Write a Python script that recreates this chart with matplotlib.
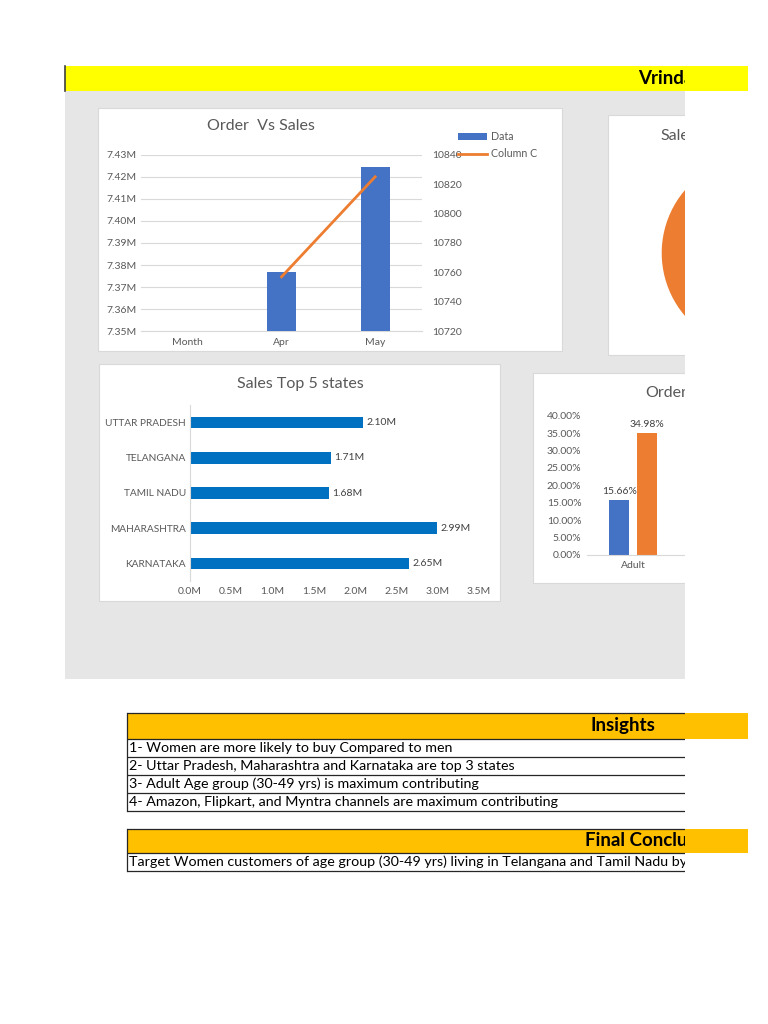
import numpy as np
import matplotlib.pyplot as plt
from matplotlib.patches import Rectangle
from matplotlib.ticker import FuncFormatter

plt.rcParams['font.family'] = ['Lato', 'DejaVu Sans']

# Order vs sales by month
months = ['Month', 'Apr', 'May']
sales = [np.nan, 7376900, 7424300]
orders = [np.nan, 10757, 10825]

# Top 5 states (bottom to top)
states = ['KARNATAKA', 'MAHARASHTRA', 'TAMIL NADU', 'TELANGANA', 'UTTAR PRADESH']
state_sales = [2.65e6, 2.99e6, 1.68e6, 1.71e6, 2.10e6]

# Orders by age and gender (only Adult visible)
age_groups = ['Adult']
age_men = [15.66]
age_women = [34.98]

# Sales by gender (pie, mostly cut off)
gender = ['Men', 'Women']
gender_share = [35.8, 64.2]

banner = 'Vrinda Store'
insights = [
    '1- Women are more likely to buy Compared to men',
    '2- Uttar Pradesh, Maharashtra and Karnataka are top 3 states',
    '3- Adult Age group (30-49 yrs) is maximum contributing',
    '4- Amazon, Flipkart, and Myntra channels are maximum contributing',
]
conclusion = 'Target Women customers of age group (30-49 yrs) living in Telangana and Tamil Nadu by'

W, H = 768, 1024
BLUE, ORANGE, BAR = '#4472C4', '#ED7D31', '#0070C0'
GRAY_TXT, GRID = '#595959', '#d9d9d9'

fig = plt.figure(figsize=(7.68, 10.24), dpi=100)


def px_axes(x0, y0, x1, y1):
    return fig.add_axes([x0 / W, 1 - y1 / H, (x1 - x0) / W, (y1 - y0) / H])


def rect(ax, x0, y0, x1, y1, fc, ec='none', lw=0, z=1):
    ax.add_patch(Rectangle((x0, y0), x1 - x0, y1 - y0, facecolor=fc,
                           edgecolor=ec, linewidth=lw, zorder=z))


def hline(ax, y, x0, x1, c='#262626', lw=0.9):
    ax.plot([x0, x1], [y, y], color=c, lw=lw, zorder=3, solid_capstyle='butt')


# ---- sheet background ----
bg = px_axes(0, 0, W, H)
bg.set_xlim(0, W)
bg.set_ylim(H, 0)
bg.axis('off')

rect(bg, 65, 66, 748, 91, '#FFFF00')
bg.plot([65, 65], [66, 91], color='#404040', lw=1.2, zorder=3)
bg.text(638, 78, banner, fontsize=13.5, fontweight='bold', va='center', ha='left', zorder=4)

rect(bg, 65, 91, 685, 679, '#e6e6e6')

# chart boxes
rect(bg, 98, 108, 562, 351, 'white', GRID, 0.8, z=2)
rect(bg, 608, 115, 760, 355, 'white', GRID, 0.8, z=2)
rect(bg, 99, 364, 500, 601, 'white', GRID, 0.8, z=2)
rect(bg, 533, 373, 760, 583, 'white', GRID, 0.8, z=2)

bg.text(261, 126, 'Order  Vs Sales', ha='center', va='center', fontsize=11.5, color=GRAY_TXT, zorder=4)
bg.text(660, 136, 'Sales', ha='left', va='center', fontsize=11.5, color=GRAY_TXT, zorder=4)
bg.text(300, 384, 'Sales Top 5 states', ha='center', va='center', fontsize=11.5, color=GRAY_TXT, zorder=4)
bg.text(645, 393, 'Orders', ha='left', va='center', fontsize=11.5, color=GRAY_TXT, zorder=4)

# insights table
rect(bg, 127, 713, 748, 739, '#FFC000')
bg.text(590, 726, 'Insights', fontsize=13.5, fontweight='bold', va='center', ha='left', zorder=4)
for y in [713, 739, 757, 775, 793, 811]:
    hline(bg, y, 127, 685)
bg.plot([127, 127], [713, 811], color='#262626', lw=0.9, zorder=3)
for i, t in enumerate(insights):
    bg.text(129, 748 + 18 * i, t, fontsize=10.25, va='center', ha='left', zorder=4)

rect(bg, 127, 829, 748, 853, '#FFC000')
bg.text(585, 841, 'Final Conclusion', fontsize=13.5, fontweight='bold', va='center', ha='left', zorder=4)
for y in [829, 853, 871]:
    hline(bg, y, 127, 685)
bg.plot([127, 127], [829, 871], color='#262626', lw=0.9, zorder=3)
bg.text(129, 862, conclusion, fontsize=10.25, va='center', ha='left', zorder=4)

# ---- Order vs Sales ----
ax1 = px_axes(141, 154.7, 422, 331.3)
x = np.arange(len(months))
bars = ax1.bar(x, sales, width=0.31, color=BLUE, zorder=3)
ax1.set_xlim(-0.5, 2.5)
ax1.set_ylim(7.35e6, 7.43e6)
ax1.set_yticks(np.arange(7.35e6, 7.4301e6, 0.01e6))
ax1.yaxis.set_major_formatter(FuncFormatter(lambda v, p: f'{v / 1e6:.2f}M'))
ax1.set_xticks(x, months)
ax1.grid(axis='y', color=GRID, lw=0.8)
ax1.set_axisbelow(True)
for s in ['top', 'left', 'right']:
    ax1.spines[s].set_visible(False)
ax1.spines['bottom'].set_color(GRID)
ax1.tick_params(length=0, labelsize=7.5, labelcolor=GRAY_TXT, pad=3)
ax1.tick_params(axis='x', pad=4.5)

ax1r = ax1.twinx()
line, = ax1r.plot(x, orders, color=ORANGE, lw=2, zorder=4)
ax1r.set_ylim(10720, 10840)
ax1r.set_yticks(range(10720, 10841, 20))
for s in ax1r.spines.values():
    s.set_visible(False)
ax1r.tick_params(length=0, labelsize=7.5, labelcolor=GRAY_TXT, pad=7)

fig.legend([bars, line], ['Data', 'Column C'], loc='upper left',
           bbox_to_anchor=(458 / W, 1 - 131 / H), frameon=False, fontsize=7.7,
           labelcolor=GRAY_TXT, handlelength=2.7, handletextpad=0.4,
           borderaxespad=0, borderpad=0, labelspacing=0.6)

# ---- Sales top 5 states ----
ax3 = px_axes(190, 405, 479, 581)
ypos = np.arange(len(states))
ax3.barh(ypos, state_sales, height=0.33, color=BAR)
ax3.set_xlim(0, 3.5e6)
ax3.set_ylim(-0.5, 4.5)
ax3.set_xticks(np.arange(0, 3.51e6, 0.5e6))
ax3.xaxis.set_major_formatter(FuncFormatter(lambda v, p: f'{v / 1e6:.1f}M'))
ax3.set_yticks(ypos, states)
for s in ['top', 'right', 'bottom']:
    ax3.spines[s].set_visible(False)
ax3.spines['left'].set_color(GRID)
ax3.tick_params(length=0, labelsize=7.3, labelcolor=GRAY_TXT, pad=3)
ax3.tick_params(axis='x', labelsize=7.5, pad=4.5)
for yv, v in zip(ypos, state_sales):
    ax3.text(v + 0.04e6, yv, f'{v / 1e6:.2f}M', va='center', ha='left', fontsize=7.5, color='#404040')

# ---- Orders by age and gender ----
ax4 = px_axes(587, 415.7, 685, 555)
xa = np.arange(len(age_groups))
ax4.bar(xa - 0.147, age_men, 0.217, color=BLUE)
ax4.bar(xa + 0.147, age_women, 0.217, color=ORANGE)
ax4.set_xlim(-0.5, 0.565)
ax4.set_ylim(0, 40)
ax4.set_yticks(np.arange(0, 40.1, 5))
ax4.yaxis.set_major_formatter(FuncFormatter(lambda v, p: f'{v:.2f}%'))
ax4.set_xticks(xa, age_groups)
for s in ['top', 'right', 'left']:
    ax4.spines[s].set_visible(False)
ax4.spines['bottom'].set_color(GRID)
ax4.tick_params(length=0, labelsize=7.5, labelcolor=GRAY_TXT, pad=4)
for xv, m, w in zip(xa, age_men, age_women):
    ax4.text(xv - 0.147, m + 1.2, f'{m:.2f}%', ha='center', va='bottom', fontsize=7.5, color='#404040')
    ax4.text(xv + 0.147, w + 1.2, f'{w:.2f}%', ha='center', va='bottom', fontsize=7.5, color='#404040')

# ---- Sales by gender pie ----
axp = px_axes(661.7, 156.2, 855.3, 349.8)
axp.pie(gender_share, colors=[BLUE, ORANGE], startangle=90, counterclock=False)
axp.set_xlim(-1, 1)
axp.set_ylim(-1, 1)
axp.set_aspect('equal')

# ---- screenshot cut-off on the right ----
ov = px_axes(0, 0, W, H)
ov.set_zorder(10)
ov.set_xlim(0, W)
ov.set_ylim(H, 0)
ov.axis('off')
ov.patch.set_visible(False)
rect(ov, 685, 0, 768, 1024, 'white')
rect(ov, 685, 66, 748, 91, '#FFFF00')
rect(ov, 685, 713, 748, 739, '#FFC000')
rect(ov, 685, 829, 748, 853, '#FFC000')

fig.savefig('out.png', dpi=100)
